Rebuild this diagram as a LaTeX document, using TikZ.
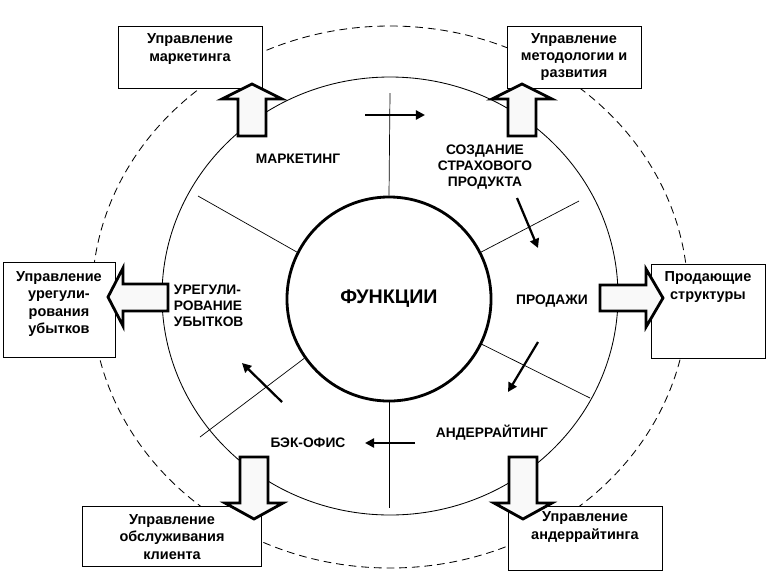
\documentclass[tikz,border=0pt]{standalone}
\usepackage{fontspec}
\setmainfont{Liberation Sans}
\usetikzlibrary{arrows.meta}
\tikzset{
	box/.style={draw, line width=0.6pt, fill=white, inner sep=0pt},
	boxtext/.style={align=center, font=\fontsize{10.3}{12.2}\selectfont\bfseries},
	func/.style={align=center, font=\fontsize{9.8}{11.3}\selectfont\bfseries},
	bigarrow/.style={draw, line width=2pt, fill=gray!5, line join=miter},
	flow/.style={line width=1.6pt, -{Triangle[length=6.5pt,width=6.5pt]}},
	spoke/.style={line width=0.5pt}
}

\begin{document}
\begin{tikzpicture}[x=0.025cm, y=-0.025cm]
        \useasboundingbox (0,0) rectangle (768,574);
        % rings
        \draw[line width=0.6pt, dash pattern=on 5.5pt off 3.5pt] (390,297) ellipse [x radius=298, y radius=271];
        \draw[line width=0.6pt] (390,296) ellipse [x radius=228, y radius=219];
        \node[circle, draw, line width=2pt, fill=white, minimum size=5.1cm, inner sep=0pt,
              font=\fontsize{14}{16}\selectfont\bfseries] (funcs) at (389,299) {ФУНКЦИИ};
        % spokes
        \draw[spoke] (funcs.90) -- (390,93);
        \draw[spoke] (funcs.27) -- (579,201);
        \draw[spoke] (funcs.-26) -- (590,398);
        \draw[spoke] (funcs.-90) -- (389,508);
        \draw[spoke] (funcs.-145) -- (200,437);
        \draw[spoke] (funcs.153) -- (198,196);
        % departments
        \node[box, minimum width=3.6cm, minimum height=1.55cm] (d_mark) at (190,57) {};
        \node[box, minimum width=3.35cm, minimum height=1.55cm] (d_meth) at (574,57) {};
        \node[box, minimum width=2.8cm, minimum height=2.375cm] (d_claims) at (59,310) {};
        \node[box, minimum width=2.85cm, minimum height=2.35cm] (d_sales) at (708,311) {};
        \node[box, minimum width=4.475cm, minimum height=1.5cm] (d_client) at (172,536) {};
        \node[box, minimum width=3.85cm, minimum height=1.6cm] (d_under) at (585,538) {};
        \node[boxtext] (t_mark) at (190,49) {Управление\\маркетинга};
        \node[boxtext] (t_meth) at (574,57) {Управление\\методологии и\\развития};
        \node[boxtext] (t_claims) at (59,304) {Управление\\урегули-\\рования\\убытков};
        \node[boxtext] (t_sales) at (708,287) {Продающие\\структуры};
        \node[boxtext] (t_client) at (172,537) {Управление\\обслуживания\\клиента};
        \node[boxtext] (t_under) at (585,527) {Управление\\андеррайтинга};
        % hollow arrows
        \draw[bigarrow] (238,136) -- (238,99) -- (222,99) -- (252,84) -- (282,99) -- (266,99) -- (266,136) -- cycle;
        \draw[bigarrow] (508,136) -- (508,99) -- (492,99) -- (522,84) -- (552,99) -- (536,99) -- (536,136) -- cycle;
        \draw[bigarrow] (168,284) -- (123,284) -- (123,268) -- (108,297) -- (123,326) -- (123,311) -- (168,311) -- cycle;
        \draw[bigarrow] (600,285) -- (646,285) -- (646,269) -- (663,298) -- (646,327) -- (646,311) -- (600,311) -- cycle;
        \draw[bigarrow] (240,457) -- (268,457) -- (268,503) -- (283,503) -- (254,519) -- (225,503) -- (240,503) -- cycle;
        \draw[bigarrow] (509,457) -- (537,457) -- (537,503) -- (552,503) -- (523,519) -- (494,503) -- (509,503) -- cycle;
        % functions
        \node[func] (f_mark) at (298,159) {МАРКЕТИНГ};
        \node[func] (f_prod) at (485,167) {СОЗДАНИЕ\\СТРАХОВОГО\\ПРОДУКТА};
        \node[func] (f_sales) at (552,301) {ПРОДАЖИ};
        \node[func] (f_under) at (492,433) {АНДЕРРАЙТИНГ};
        \node[func] (f_back) at (308,443) {БЭК-ОФИС};
        \node[func, align=left, anchor=west] (f_claims) at (169,306) {УРЕГУЛИ-\\РОВАНИЕ\\УБЫТКОВ};
        % cycle
        \draw[flow] (365,115) -- (425,115);
        \draw[flow] (517,198) -- (538,248);
        \draw[flow] (538,342) -- (508,392);
        \draw[flow] (415,443) -- (365,443);
        \draw[flow] (282,402) -- (242,363);
    \end{tikzpicture}
\end{document}
